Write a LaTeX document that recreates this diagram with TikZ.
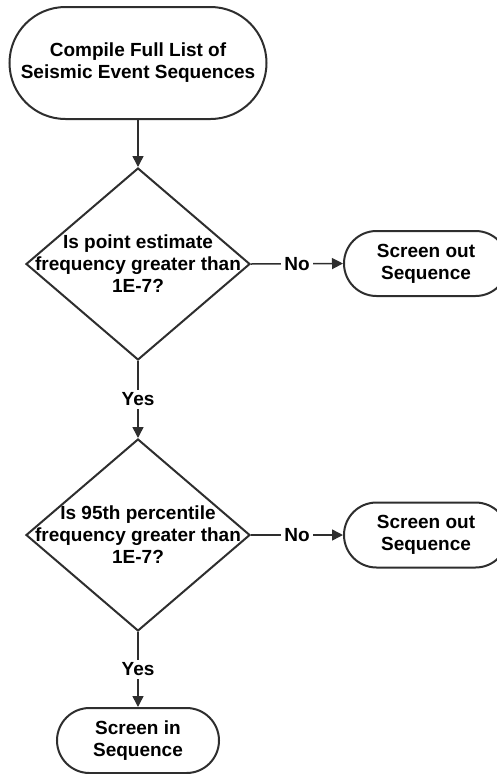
\documentclass[tikz,border=0pt]{standalone}
\usepackage{fontspec}
\setmainfont{Liberation Sans}
\usetikzlibrary{shapes.geometric,shapes.misc,arrows.meta}
\definecolor{ln}{HTML}{2E2E2E}
\begin{document}
\begin{tikzpicture}[x=1pt,y=-1pt,
  font=\fontsize{19}{22}\selectfont\bfseries,
  term/.style={rounded rectangle, draw=ln, line width=2pt, align=center, inner sep=0pt, text=black},
  dec/.style={diamond, draw=ln, line width=2pt, minimum width=224pt, minimum height=192pt, inner sep=0pt},
  conn/.style={draw=ln, line width=1.5pt, -{Triangle[length=11pt,width=11pt]}},
  lab/.style={fill=white, inner sep=3pt, text=black}]
\useasboundingbox (0,0) rectangle (497,774);
\node[term, minimum width=257pt, minimum height=112pt] (start) at (138,63) {Compile Full List of\\Seismic Event Sequences};
\node[dec, label={[align=center,text=black]center:{Is point estimate\\frequency greater than\\1E-7?}}] (d1) at (138,264) {};
\node[term, minimum width=164pt, minimum height=65pt] (o1) at (426,263.5) {Screen out\\Sequence};
\node[dec, label={[align=center,text=black]center:{Is 95th percentile\\frequency greater than\\1E-7?}}] (d2) at (138,535) {};
\node[term, minimum width=164pt, minimum height=65pt] (o2) at (426,535) {Screen out\\Sequence};
\node[term, minimum width=162pt, minimum height=65pt] (in) at (138,740.5) {Screen in\\Sequence};
\draw[conn] (start.south) -- (d1.north);
\draw[conn] (d1.east) -- node[lab]{No} (o1.west);
\draw[conn] (d1.south) -- node[lab]{Yes} (d2.north);
\draw[conn] (d2.east) -- node[lab]{No} (o2.west);
\draw[conn] (d2.south) -- node[lab]{Yes} (in.north);
\end{tikzpicture}
\end{document}
